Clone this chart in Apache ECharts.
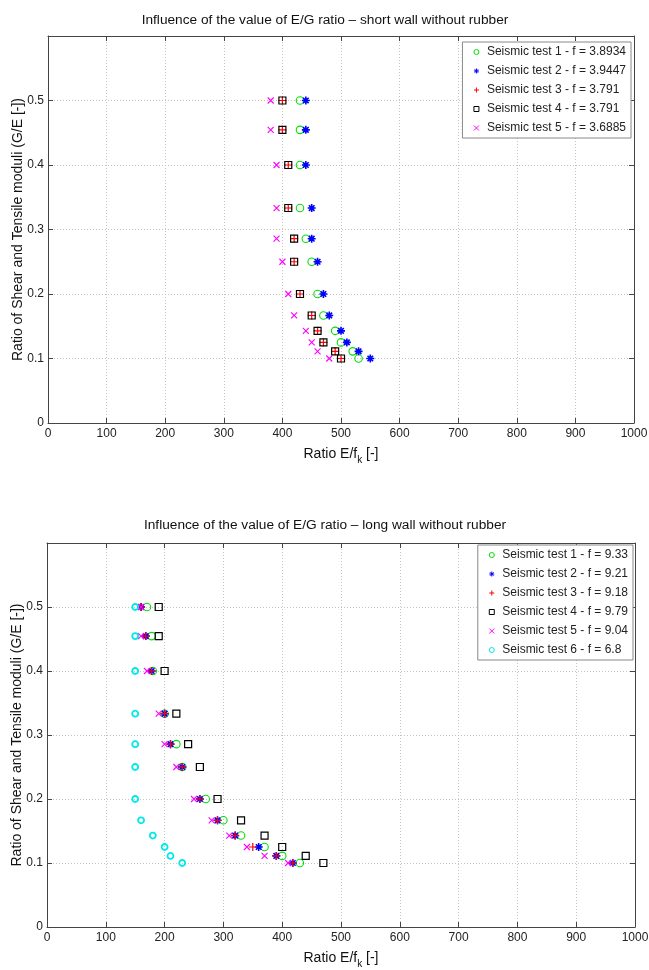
<!DOCTYPE html>
<html><head><meta charset="utf-8">
<script src="https://cdn.jsdelivr.net/npm/echarts@6/dist/echarts.min.js"></script>
<style>html,body{margin:0;padding:0;background:#fff}#c{width:649px;height:970px}</style>
</head><body><div id="c"></div>
<script>
// ---- data ----
const gRatio = [0.5, 0.4545, 0.4, 0.3333, 0.2857, 0.25, 0.2, 0.1667, 0.1429, 0.125, 0.1111, 0.1];

const shortTitle = 'Influence of the value of E/G ratio – short wall without rubber';
const shortNames = ['Seismic test 1 - f = 3.8934', 'Seismic test 2 - f = 3.9447', 'Seismic test 3 - f = 3.791', 'Seismic test 4 - f = 3.791', 'Seismic test 5 - f = 3.6885'];
const shortT1 = [430, 430, 430, 430, 440, 450, 460, 470, 490, 500, 520, 530];
const shortT2 = [440, 440, 440, 450, 450, 460, 470, 480, 500, 510, 530, 550];
const shortT3 = [400, 400, 410, 410, 420, 420, 430, 450, 460, 470, 490, 500];
const shortT4 = [400, 400, 410, 410, 420, 420, 430, 450, 460, 470, 490, 500];
const shortT5 = [380, 380, 390, 390, 390, 400, 410, 420, 440, 450, 460, 480];

const longTitle = 'Influence of the value of E/G ratio – long wall without rubber';
const longNames = ['Seismic test 1 - f = 9.33', 'Seismic test 2 - f = 9.21', 'Seismic test 3 - f = 9.18', 'Seismic test 4 - f = 9.79', 'Seismic test 5 - f = 9.04', 'Seismic test 6 - f = 6.8'];
const longT1 = [170, 178, 180, 200, 220, 230, 270, 300, 330, 370, 400, 430];
const longT2 = [160, 168, 178, 200, 210, 230, 260, 290, 320, 360, 390, 418];
const longT3 = [160, 168, 178, 200, 210, 230, 260, 290, 320, 350, 390, 418];
const longT4 = [190, 190, 200, 220, 240, 260, 290, 330, 370, 400, 440, 470];
const longT5 = [160, 160, 170, 190, 200, 220, 250, 280, 310, 340, 370, 410];
const longT6 = [150, 150, 150, 150, 150, 150, 150, 160, 180, 200, 210, 230];

const xName = 'Ratio E/f';
const xSub = 'k';
const xTail = ' [-]';
const yName = 'Ratio of Shear and Tensile moduli (G/E [-])';

// ---- styles ----
const FONT = 'Liberation Sans, Arial, sans-serif';
const markers = {
  circle: {symbol: 'circle', size: 7.5, color: '#00e000', bw: 1.1},
  star: {symbol: 'path://M0,5H10M5,0V10M1.5,1.5L8.5,8.5M8.5,1.5L1.5,8.5', size: 8, color: '#0000ff', bw: 1.6},
  plus: {symbol: 'path://M0,5H10M5,0V10', size: 8, color: '#ff0000', bw: 1.2},
  square: {symbol: 'rect', size: 7, color: '#000000', bw: 1.2},
  cross: {symbol: 'path://M0,0L10,10M10,0L0,10', size: 6, color: '#ff00ff', bw: 1.1},
  cyan: {symbol: 'circle', size: 6, color: '#00e8e8', bw: 1.8}
};

function pairs(xs) { return xs.map((x, i) => [x, gRatio[i]]); }
function mk(name, xs, m, idx) {
  return {
    type: 'scatter', name: name, xAxisIndex: idx, yAxisIndex: idx,
    data: pairs(xs), symbol: m.symbol, symbolSize: m.size,
    itemStyle: {color: 'none', borderColor: m.color, borderWidth: m.bw, opacity: 1},
    emphasis: {disabled: true}, animation: false
  };
}

const grids = [
  {left: 48, right: 15, top: 36, height: 387, outerBoundsMode: 'none', containLabel: false},
  {left: 47, right: 14, top: 543, height: 384, outerBoundsMode: 'none', containLabel: false}
];

function mainX(gi) {
  return {
    gridIndex: gi, type: 'value', min: 0, max: 1000, interval: 100, position: 'bottom',
    name: '{a|' + xName + '}{s|' + xSub + '}{a|' + xTail + '}',
    nameLocation: 'middle', nameGap: 20,
    nameTextStyle: {rich: {
      a: {fontFamily: FONT, fontSize: 14, color: '#111'},
      s: {fontFamily: FONT, fontSize: 10, color: '#111', padding: [12, 0, 0, 0]}
    }},
    axisLine: {show: true, onZero: false, lineStyle: {color: '#444', width: 1}},
    axisTick: {show: true, inside: true, length: 5, lineStyle: {color: '#444'}},
    axisLabel: {fontFamily: FONT, fontSize: 12, color: '#222', margin: 5, formatter: v => String(v)},
    splitLine: {show: true, lineStyle: {color: '#c4c4c4', type: [1, 2], width: 1}}
  };
}
function topX(gi) {
  return {
    gridIndex: gi, type: 'value', min: 0, max: 1000, interval: 100, position: 'top',
    axisLine: {show: true, onZero: false, lineStyle: {color: '#444', width: 1}},
    axisTick: {show: true, inside: true, length: 5, lineStyle: {color: '#444'}},
    axisLabel: {show: false}, splitLine: {show: false}
  };
}
function mainY(gi) {
  return {
    gridIndex: gi, type: 'value', min: 0, max: 0.6, interval: 0.1, position: 'left',
    name: yName, nameLocation: 'middle', nameGap: 23, nameRotate: 90, nameMoveOverlap: false,
    nameTextStyle: {fontFamily: FONT, fontSize: 14, color: '#111'},
    axisLine: {show: true, onZero: false, lineStyle: {color: '#444', width: 1}},
    axisTick: {show: true, inside: true, length: 5, lineStyle: {color: '#444'}},
    axisLabel: {fontFamily: FONT, fontSize: 12, color: '#222', margin: 4, showMaxLabel: false},
    splitLine: {show: true, lineStyle: {color: '#c4c4c4', type: [1, 2], width: 1}}
  };
}
function rightY(gi) {
  return {
    gridIndex: gi, type: 'value', min: 0, max: 0.6, interval: 0.1, position: 'right',
    axisLine: {show: true, onZero: false, lineStyle: {color: '#444', width: 1}},
    axisTick: {show: true, inside: true, length: 5, lineStyle: {color: '#444'}},
    axisLabel: {show: false}, splitLine: {show: false}
  };
}

function legend(names, top, right) {
  return {
    data: names, orient: 'vertical', top: top, right: right,
    backgroundColor: '#fff', borderColor: '#888', borderWidth: 1,
    padding: [3, 5, 3, 9], itemGap: 5, itemWidth: 5, itemHeight: 5,
    itemStyle: {borderWidth: 1},
    textStyle: {fontFamily: FONT, fontSize: 12, color: '#222', lineHeight: 14, padding: [0, 0, 0, 3]},
    selectedMode: false
  };
}

const option = {
  animation: false,
  backgroundColor: '#fff',
  title: [
    {text: shortTitle, left: 325, top: 13, textAlign: 'center', padding: 0,
     textStyle: {fontFamily: FONT, fontSize: 13.7, fontWeight: 'normal', color: '#111'}},
    {text: longTitle, left: 325, top: 518, textAlign: 'center', padding: 0,
     textStyle: {fontFamily: FONT, fontSize: 13.7, fontWeight: 'normal', color: '#111'}}
  ],
  grid: grids,
  xAxis: [mainX(0), topX(0), mainX(1), topX(1)],
  yAxis: [mainY(0), rightY(0), mainY(1), rightY(1)],
  legend: [legend(shortNames, 42, 18), legend(longNames, 545, 16)],
  series: [
    mk(shortNames[0], shortT1, markers.circle, 0),
    mk(shortNames[1], shortT2, markers.star, 0),
    mk(shortNames[2], shortT3, markers.plus, 0),
    mk(shortNames[3], shortT4, markers.square, 0),
    mk(shortNames[4], shortT5, markers.cross, 0),
    mk(longNames[0], longT1, markers.circle, 2),
    mk(longNames[1], longT2, markers.star, 2),
    mk(longNames[2], longT3, markers.plus, 2),
    mk(longNames[3], longT4, markers.square, 2),
    mk(longNames[4], longT5, markers.cross, 2),
    mk(longNames[5], longT6, markers.cyan, 2)
  ]
};
const chart = echarts.init(document.getElementById('c'), null, {renderer: 'canvas'});
chart.setOption(option);
</script>
</body></html>
